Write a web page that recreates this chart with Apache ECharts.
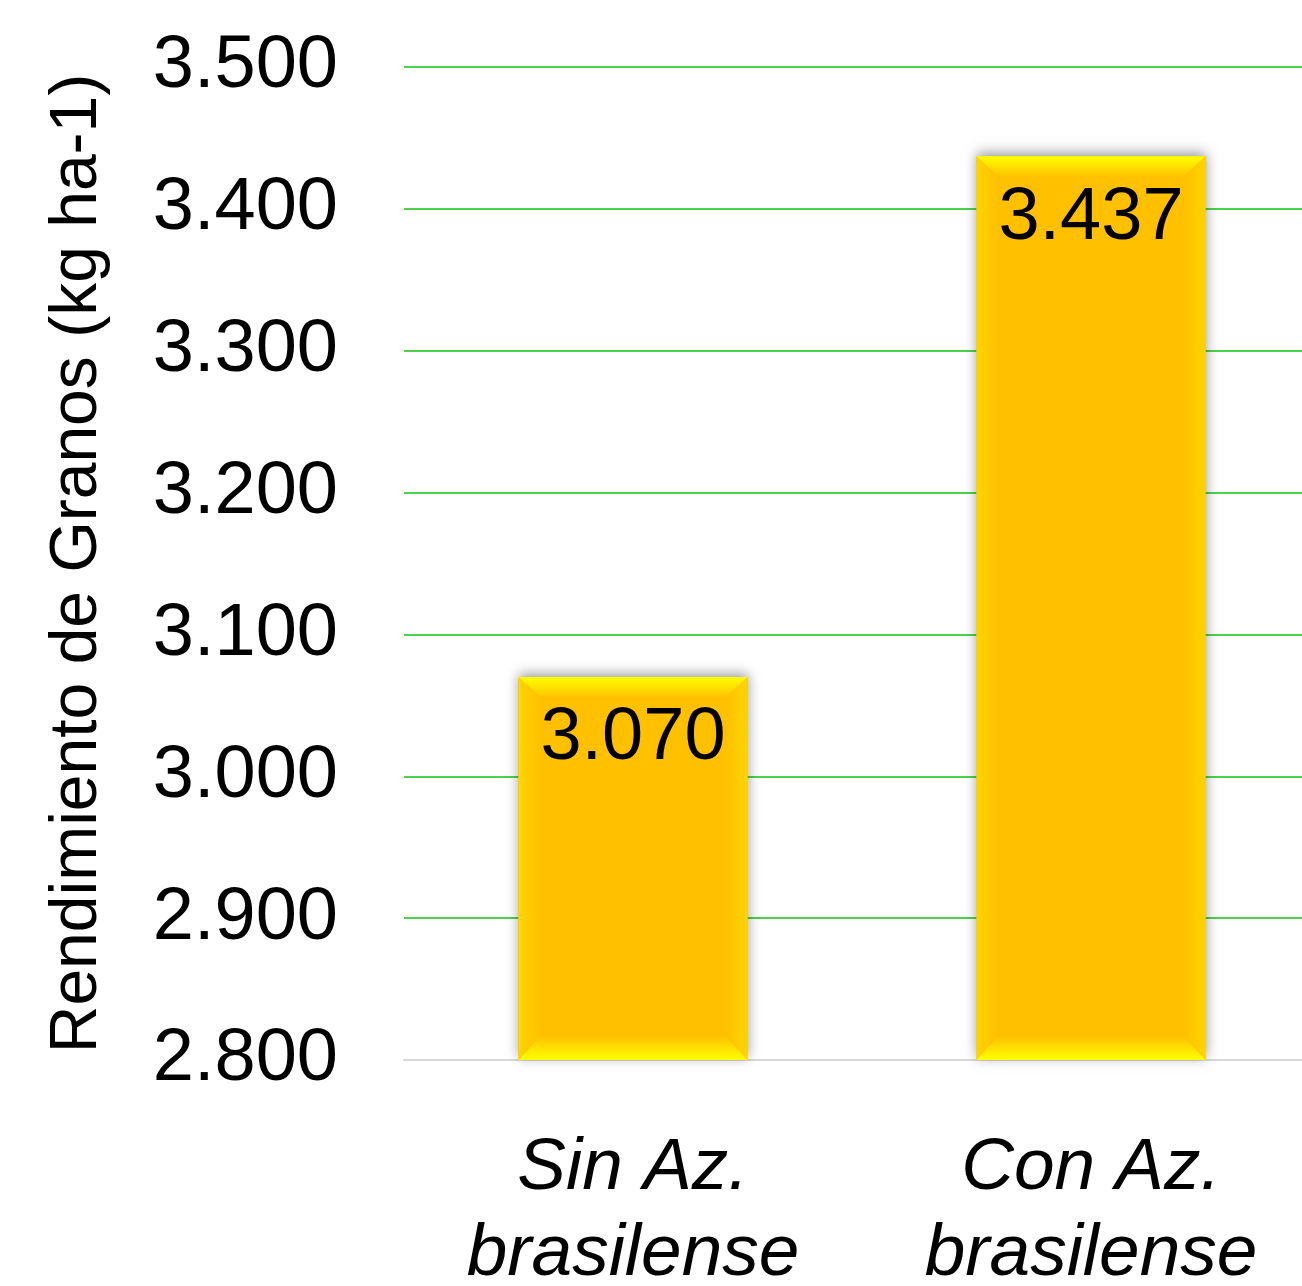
<!DOCTYPE html>
<html><head><meta charset="utf-8">
<style>html,body{margin:0;padding:0;background:#fff}#c{width:1302px;height:1286px}</style>
<script src="https://cdn.jsdelivr.net/npm/echarts@6/dist/echarts.min.js"></script>
</head><body><div id="c"></div>
<script>
const categories = ["Sin Az.\nbrasilense", "Con Az.\nbrasilense"];
const values = [3070, 3437];
const yMin = 2800, yMax = 3500, yStep = 100;
const yAxisTitle = "Rendimiento de Granos (kg ha-1)";

const fmt = v => (v/1000).toFixed(3);
const LG = echarts.graphic.LinearGradient;
const chart = echarts.init(document.getElementById('c'));

function renderBar(params, api) {
  const i = api.value(0), v = api.value(1);
  const top = api.coord([i, v]);
  const bot = api.coord([i, yMin]);
  const w = api.size([1, 0])[0] * 0.5;
  const x0 = top[0] - w / 2, x1 = top[0] + w / 2, y0 = top[1], y1 = bot[1];
  const bt = 20, bb = 24, bs = 22;
  return {
    type: 'group',
    children: [
      { type: 'rect', shape: { x: x0, y: y0, width: w, height: y1 - y0 },
        style: { fill: '#ffc000', shadowBlur: 12, shadowColor: 'rgba(0,0,0,0.4)', shadowOffsetY: -3 } },
      { type: 'polygon', shape: { points: [[x0, y0], [x0 + bs, y0 + bt], [x0 + bs, y1 - bb], [x0, y1]] },
        style: { fill: new LG(0, 0, 1, 0, [{ offset: 0, color: '#ffd400' }, { offset: 1, color: '#ffc000' }]) } },
      { type: 'polygon', shape: { points: [[x1, y0], [x1 - bs, y0 + bt], [x1 - bs, y1 - bb], [x1, y1]] },
        style: { fill: new LG(1, 0, 0, 0, [{ offset: 0, color: '#ffd400' }, { offset: 1, color: '#ffc000' }]) } },
      { type: 'polygon', shape: { points: [[x0, y0], [x1, y0], [x1 - bs, y0 + bt], [x0 + bs, y0 + bt]] },
        style: { fill: new LG(0, 0, 0, 1, [{ offset: 0, color: '#ffff00' }, { offset: 1, color: '#ffc400' }]) } },
      { type: 'polygon', shape: { points: [[x0, y1], [x1, y1], [x1 - bs, y1 - bb], [x0 + bs, y1 - bb]] },
        style: { fill: new LG(0, 1, 0, 0, [{ offset: 0, color: '#ffff00' }, { offset: 1, color: '#ffc000' }]) } },
      { type: 'text', x: top[0], y: y0 + 25,
        style: { text: fmt(v), fontFamily: 'Liberation Sans', fontSize: 74, fill: '#000', align: 'center', verticalAlign: 'top' } }
    ]
  };
}

chart.setOption({
  animation: false,
  backgroundColor: '#fff',
  grid: { left: 404, top: 67, height: 993, right: -18, containLabel: false, outerBoundsMode: 'none' },
  xAxis: {
    type: 'category', data: categories,
    axisLine: { lineStyle: { color: '#d9d9d9', width: 2 } },
    axisTick: { show: false },
    axisLabel: { fontFamily: 'Liberation Sans', fontStyle: 'italic', fontSize: 73, lineHeight: 86, color: '#000', margin: 66, interval: 0 }
  },
  yAxis: {
    type: 'value', min: yMin, max: yMax, interval: yStep,
    name: yAxisTitle, nameLocation: 'middle', nameRotate: 90, nameGap: 293,
    nameTextStyle: { fontFamily: 'Liberation Sans', fontSize: 66, color: '#000' },
    axisLine: { show: false }, axisTick: { show: false },
    axisLabel: { fontFamily: 'Liberation Sans', fontSize: 74, color: '#000', margin: 66, formatter: fmt },
    splitLine: { lineStyle: { color: '#4cd24c', width: 2 } }
  },
  series: [{
    type: 'custom', renderItem: renderBar,
    data: values.map((v, i) => [i, v]),
    encode: { x: 0, y: 1 }
  }]
});
</script></body></html>
